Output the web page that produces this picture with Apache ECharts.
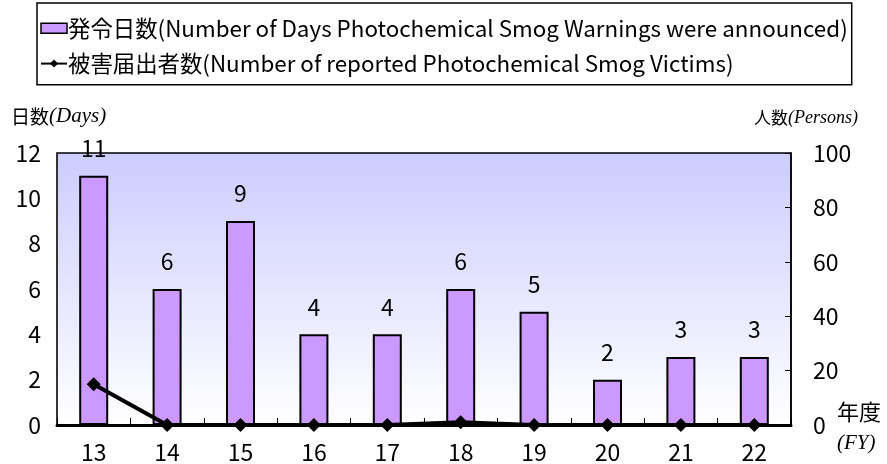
<!DOCTYPE html>
<html><head><meta charset="utf-8">
<script src="https://cdn.jsdelivr.net/npm/echarts@6/dist/echarts.min.js"></script>
<style>html,body{margin:0;padding:0;background:#fff}#c{width:887px;height:464px}</style>
</head><body><div id="c"></div>
<script>
var categories = ['13','14','15','16','17','18','19','20','21','22'];
var warningDays = [11, 6, 9, 4, 4, 6, 5, 2, 3, 3];
var victims = [15, 0, 0, 0, 0, 1, 0, 0, 0, 0];
var leftTicks = [0, 2, 4, 6, 8, 10, 12];
var rightTicks = [0, 20, 40, 60, 80, 100];
var barName = '発令日数(Number of Days Photochemical Smog Warnings were announced)';
var lineName = '被害届出者数(Number of reported Photochemical Smog Victims)';

var FONT = '"Noto Sans CJK JP", "Noto Sans", sans-serif';
var chart = echarts.init(document.getElementById('c'), null, {renderer: 'canvas'});
chart.setOption({
  animation: false,
  textStyle: {fontFamily: FONT, color: '#000'},
  legend: {
    orient: 'vertical', left: 37, top: 3,
    padding: [14, 4, 10, 3],
    borderColor: '#000', borderWidth: 1.5,
    itemGap: 13, itemWidth: 26, itemHeight: 10,
    textStyle: {fontSize: 22.4, fontFamily: FONT, color: '#000', padding: [0, 0, 0, -4]},
    data: [
      {name: barName, icon: 'rect', itemStyle: {color: '#CC99FF', borderColor: '#000', borderWidth: 1.5}},
      {name: lineName}
    ]
  },
  grid: {
    left: 57, right: 96, top: 153, bottom: 39,
    outerBoundsMode: 'none', containLabel: false,
    show: true, borderColor: '#000', borderWidth: 1.5,
    backgroundColor: new echarts.graphic.LinearGradient(0, 0, 0, 1, [
      {offset: 0, color: '#CCCCFF'}, {offset: 1, color: '#FFFFFF'}
    ])
  },
  xAxis: {
    type: 'category', data: categories,
    axisLine: {lineStyle: {color: '#000', width: 3}},
    axisTick: {show: true, inside: true, length: 7, lineStyle: {color: '#000', width: 1}},
    axisLabel: {fontSize: 23, color: '#000', margin: 16, fontFamily: FONT},
    name: '{a|年度}\n{b|(FY)}',
    nameLocation: 'end', nameGap: 46,
    nameTextStyle: {
      align: 'left', verticalAlign: 'top', padding: [-28, 0, 0, 0],
      rich: {
        a: {fontSize: 22, fontFamily: FONT, color: '#000', lineHeight: 30},
        b: {fontSize: 21, fontFamily: '"Liberation Serif", serif', fontStyle: 'italic', color: '#000', lineHeight: 32}
      }
    }
  },
  yAxis: [{
    type: 'value', min: 0, max: 12, interval: 2,
    splitLine: {show: false},
    axisLine: {show: true, lineStyle: {color: '#333', width: 1.5}},
    axisTick: {show: false},
    axisLabel: {fontSize: 23, color: '#000', margin: 16, fontFamily: FONT},
    name: '{a|日数}{b|(Days)}',
    nameLocation: 'end', nameGap: 26,
    nameTextStyle: {
      align: 'left', padding: [0, 0, 0, -46],
      rich: {
        a: {fontSize: 19, fontFamily: FONT, color: '#000'},
        b: {fontSize: 21, fontFamily: '"Liberation Serif", serif', fontStyle: 'italic', color: '#000'}
      }
    }
  }, {
    type: 'value', min: 0, max: 100, interval: 20, position: 'right',
    splitLine: {show: false},
    axisLine: {show: true, lineStyle: {color: '#000', width: 1.5}},
    axisTick: {show: true, inside: true, length: 6, lineStyle: {color: '#000'}},
    axisLabel: {fontSize: 23, color: '#000', margin: 22, fontFamily: FONT},
    name: '{a|人数}{b|(Persons)}',
    nameLocation: 'end', nameGap: 26,
    nameTextStyle: {
      align: 'right', padding: [0, -67, 0, 0],
      rich: {
        a: {fontSize: 17, fontFamily: FONT, color: '#000'},
        b: {fontSize: 18, fontFamily: '"Liberation Serif", serif', fontStyle: 'italic', color: '#000'}
      }
    }
  }],
  series: [{
    name: barName, type: 'bar', data: warningDays, yAxisIndex: 0,
    barWidth: 29,
    itemStyle: {color: '#CC99FF', borderColor: '#000', borderWidth: 2},
    label: {show: true, position: 'top', distance: 16, fontSize: 23, color: '#000', fontFamily: FONT}
  }, {
    name: lineName, type: 'line', data: victims, yAxisIndex: 1,
    symbol: 'diamond', symbolSize: 14,
    lineStyle: {color: '#000', width: 4},
    itemStyle: {color: '#000'},
    z: 5
  }]
});
</script></body></html>
